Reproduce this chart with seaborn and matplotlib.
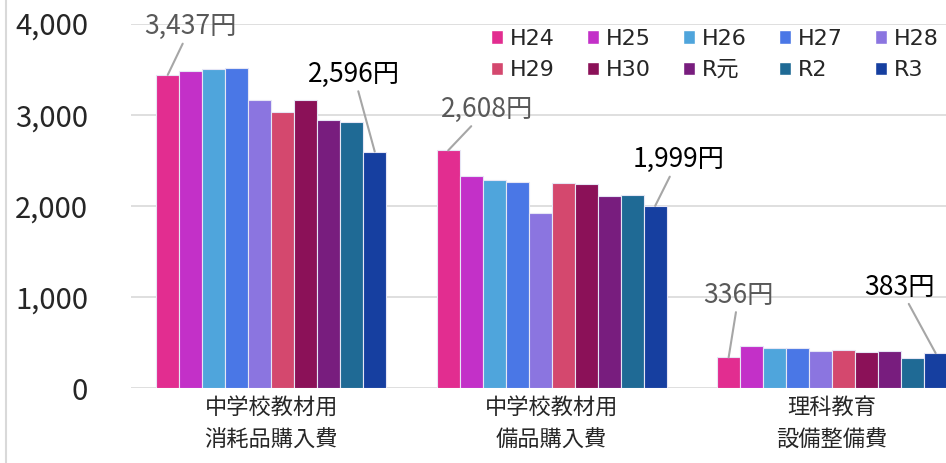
import pandas as pd
import seaborn as sns
import matplotlib.pyplot as plt
from matplotlib.patches import Patch
from matplotlib.lines import Line2D

# values per category, one per fiscal year
categories = ["中学校教材用\n消耗品購入費", "中学校教材用\n備品購入費", "理科教育\n設備整備費"]
years = ["H24", "H25", "H26", "H27", "H28", "H29", "H30", "R元", "R2", "R3"]
consumables = [3437, 3475, 3497, 3508, 3157, 3032, 3163, 2945, 2919, 2596]
equipment = [2608, 2330, 2287, 2258, 1921, 2247, 2236, 2108, 2115, 1999]
science = [336, 466, 441, 434, 408, 412, 393, 401, 327, 383]
colors = ["#E22D90", "#C330C8", "#4FA5DC", "#4A77E6", "#8B75E0",
          "#D4486E", "#8B1158", "#781D7E", "#1F6A95", "#163FA0"]
yticks = [0, 1000, 2000, 3000, 4000]

rows = []
for cat, vals in zip(categories, [consumables, equipment, science]):
    for y, v in zip(years, vals):
        rows.append({"category": cat, "year": y, "value": v})
df = pd.DataFrame(rows)

sns.set_theme(style="white")
plt.rcParams['font.family'] = ['Noto Sans CJK JP', 'DejaVu Sans']

fig = plt.figure(figsize=(9.46, 4.63), dpi=100)
ax = fig.add_axes([131 / 946, 75 / 463, 815 / 946, (388 - 23.6) / 463])
sns.barplot(data=df, x="category", y="value", hue="year", order=categories,
            hue_order=years, palette=colors, width=0.82, saturation=1,
            edgecolor="#e6e6f5", linewidth=0.8, legend=False, ax=ax)

ax.set_xlim(-0.5, 2.406)
ax.set_ylim(0, 4000)
ax.set_yticks(yticks)
ax.set_yticklabels([f"{t:,}" for t in yticks], fontsize=21)
ax.set_xticks(range(len(categories)))
ax.set_xticklabels(categories, fontsize=16, linespacing=1.5)
ax.tick_params(axis="y", length=0, pad=31)
ax.tick_params(axis="x", length=0, pad=6)
ax.set_xlabel("")
ax.set_ylabel("")
ax.yaxis.grid(True, color="#d9d9d9", lw=1.2)
ax.set_axisbelow(True)
for s in ax.spines.values():
    s.set_visible(False)

# value callouts: (category index, year index, dx px, dy px, colour)
callouts = [(0, 0, 23, -48, "#595959"), (0, 9, -21, -77, "black"),
            (1, 0, 39, -41, "#595959"), (1, 9, 23, -46, "black"),
            (2, 0, 10, -62, "#595959"), (2, 9, -36, -66, "black")]
for ci, hi, dx, dy, col in callouts:
    bar = ax.containers[hi][ci]
    x = bar.get_x() + bar.get_width() / 2
    v = bar.get_height()
    ax.annotate(f"{int(v):,}円", xy=(x, v), xytext=(dx * 0.72, -dy * 0.72),
                textcoords="offset points", ha="center", va="center",
                fontsize=19, color=col, annotation_clip=False,
                arrowprops=dict(arrowstyle="-", color="#a6a6a6", lw=1.5,
                                shrinkA=0, shrinkB=0))

# legend is filled column by column, so reorder to read across rows
order = [0, 5, 1, 6, 2, 7, 3, 8, 4, 9]
handles = [Patch(facecolor=colors[i]) for i in order]
labels = [years[i] for i in order]
ax.legend(handles, labels, ncol=5, loc="upper left",
          bbox_to_anchor=(491 / 946, 1 - 29 / 463), bbox_transform=fig.transFigure,
          frameon=False, handlelength=0.55, handleheight=0.55, handletextpad=0.3,
          columnspacing=1.45, labelspacing=0.5, borderpad=0, borderaxespad=0,
          prop={"family": ["DejaVu Sans", "Noto Sans CJK JP"], "size": 16})

fig.add_artist(Line2D([6 / 946, 6 / 946], [0, 1], color="#d9d9d9", lw=1.5,
                      transform=fig.transFigure))

fig.savefig("out.png", dpi=100)
